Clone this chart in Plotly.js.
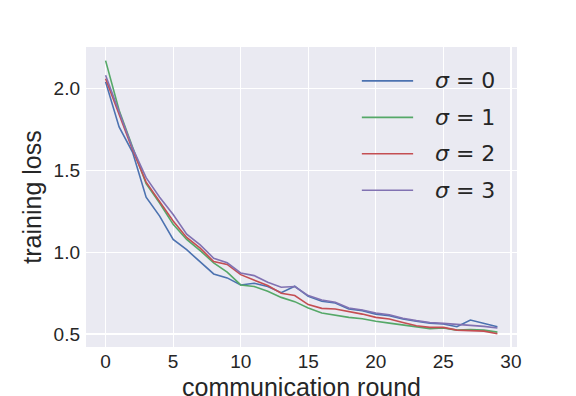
<!DOCTYPE html>
<html>
<head>
<meta charset="utf-8">
<script src="https://cdn.plot.ly/plotly-3.0.1.min.js"></script>
<style>
  html, body { margin: 0; padding: 0; background: #fff; }
  #chart { width: 576px; height: 396px; }
</style>
</head>
<body>
<div id="chart"></div>
<script>
var rounds = [0, 1, 2, 3, 4, 5, 6, 7, 8, 9, 10, 11, 12, 13, 14,
  15, 16, 17, 18, 19, 20, 21, 22, 23, 24, 25, 26, 27, 28, 29];

var sigma0 = [2.04, 1.765, 1.61, 1.336, 1.22, 1.078, 1.015, 0.943, 0.867, 0.843,
  0.80, 0.81, 0.79, 0.753, 0.792, 0.73, 0.70, 0.69, 0.653, 0.643,
  0.622, 0.612, 0.592, 0.578, 0.567, 0.561, 0.545, 0.586, 0.565, 0.545];
var sigma1 = [2.17, 1.867, 1.64, 1.418, 1.30, 1.17, 1.078, 1.01, 0.935, 0.878,
  0.80, 0.79, 0.761, 0.724, 0.698, 0.659, 0.629, 0.616, 0.602, 0.594,
  0.578, 0.567, 0.557, 0.547, 0.533, 0.537, 0.524, 0.527, 0.524, 0.512];
var sigma2 = [2.06, 1.84, 1.625, 1.428, 1.31, 1.19, 1.09, 1.025, 0.943, 0.925,
  0.863, 0.83, 0.796, 0.749, 0.735, 0.68, 0.657, 0.653, 0.639, 0.622,
  0.602, 0.592, 0.571, 0.551, 0.541, 0.541, 0.524, 0.52, 0.518, 0.502];
var sigma3 = [2.08, 1.855, 1.635, 1.455, 1.336, 1.23, 1.11, 1.045, 0.963, 0.935,
  0.873, 0.857, 0.816, 0.786, 0.79, 0.735, 0.708, 0.694, 0.659, 0.647,
  0.629, 0.618, 0.596, 0.582, 0.571, 0.565, 0.557, 0.553, 0.547, 0.537];

var names = ['<i>σ</i> = 0', '<i>σ</i> = 1', '<i>σ</i> = 2', '<i>σ</i> = 3'];
var colors = ['#4C72B0', '#55A868', '#C44E52', '#8172B2'];
var series = [sigma0, sigma1, sigma2, sigma3];

var data = [];
var shapes = [];
var annotations = [];
for (var i = 0; i < series.length; i++) {
  data.push({
    x: rounds,
    y: series[i],
    name: names[i],
    type: 'scatter',
    mode: 'lines',
    line: {color: colors[i], width: 1.6}
  });
  // hand-made legend, matplotlib style (longer handles than plotly's)
  var ly = 0.887 - i * 0.1215;
  shapes.push({
    type: 'line', xref: 'paper', yref: 'paper',
    x0: 0.640, x1: 0.759, y0: ly, y1: ly,
    line: {color: colors[i], width: 1.6}
  });
  annotations.push({
    xref: 'paper', yref: 'paper', x: 0.805, y: ly,
    xanchor: 'left', yanchor: 'middle', showarrow: false,
    text: names[i],
    font: {family: 'DejaVu Sans', size: 22, color: '#262626'}
  });
}

// x axis title as an annotation: the real one gets squeezed by the small bottom margin
annotations.push({
  xref: 'paper', yref: 'paper', x: 0.5, y: -0.133,
  xanchor: 'center', yanchor: 'middle', showarrow: false,
  text: 'communication round',
  font: {size: 25, color: '#262626'}
});

var layout = {
  width: 576,
  height: 396,
  margin: {l: 86, r: 59, t: 47, b: 49},
  paper_bgcolor: '#ffffff',
  plot_bgcolor: '#EAEAF2',
  showlegend: false,
  font: {family: 'Liberation Sans, Arial, sans-serif', color: '#262626'},
  xaxis: {
    range: [-1.45, 30.45],
    tickvals: [0, 5, 10, 15, 20, 25, 30],
    showgrid: true, gridcolor: '#ffffff', gridwidth: 1.2,
    zeroline: false, showline: false, ticks: '',
    ticklabelstandoff: 1,
    tickfont: {size: 19, color: '#262626'}
  },
  yaxis: {
    range: [0.421, 2.253],
    tickvals: [0.5, 1.0, 1.5, 2.0],
    tickformat: '.1f',
    showgrid: true, gridcolor: '#ffffff', gridwidth: 1.2,
    zeroline: false, showline: false, ticks: '',
    ticklabelstandoff: 5,
    tickfont: {size: 19, color: '#262626'},
    title: {text: 'training loss', font: {size: 25, color: '#262626'}, standoff: 4}
  },
  shapes: shapes,
  annotations: annotations
};

Plotly.newPlot('chart', data, layout, {displayModeBar: false, staticPlot: true});
</script>
</body>
</html>
